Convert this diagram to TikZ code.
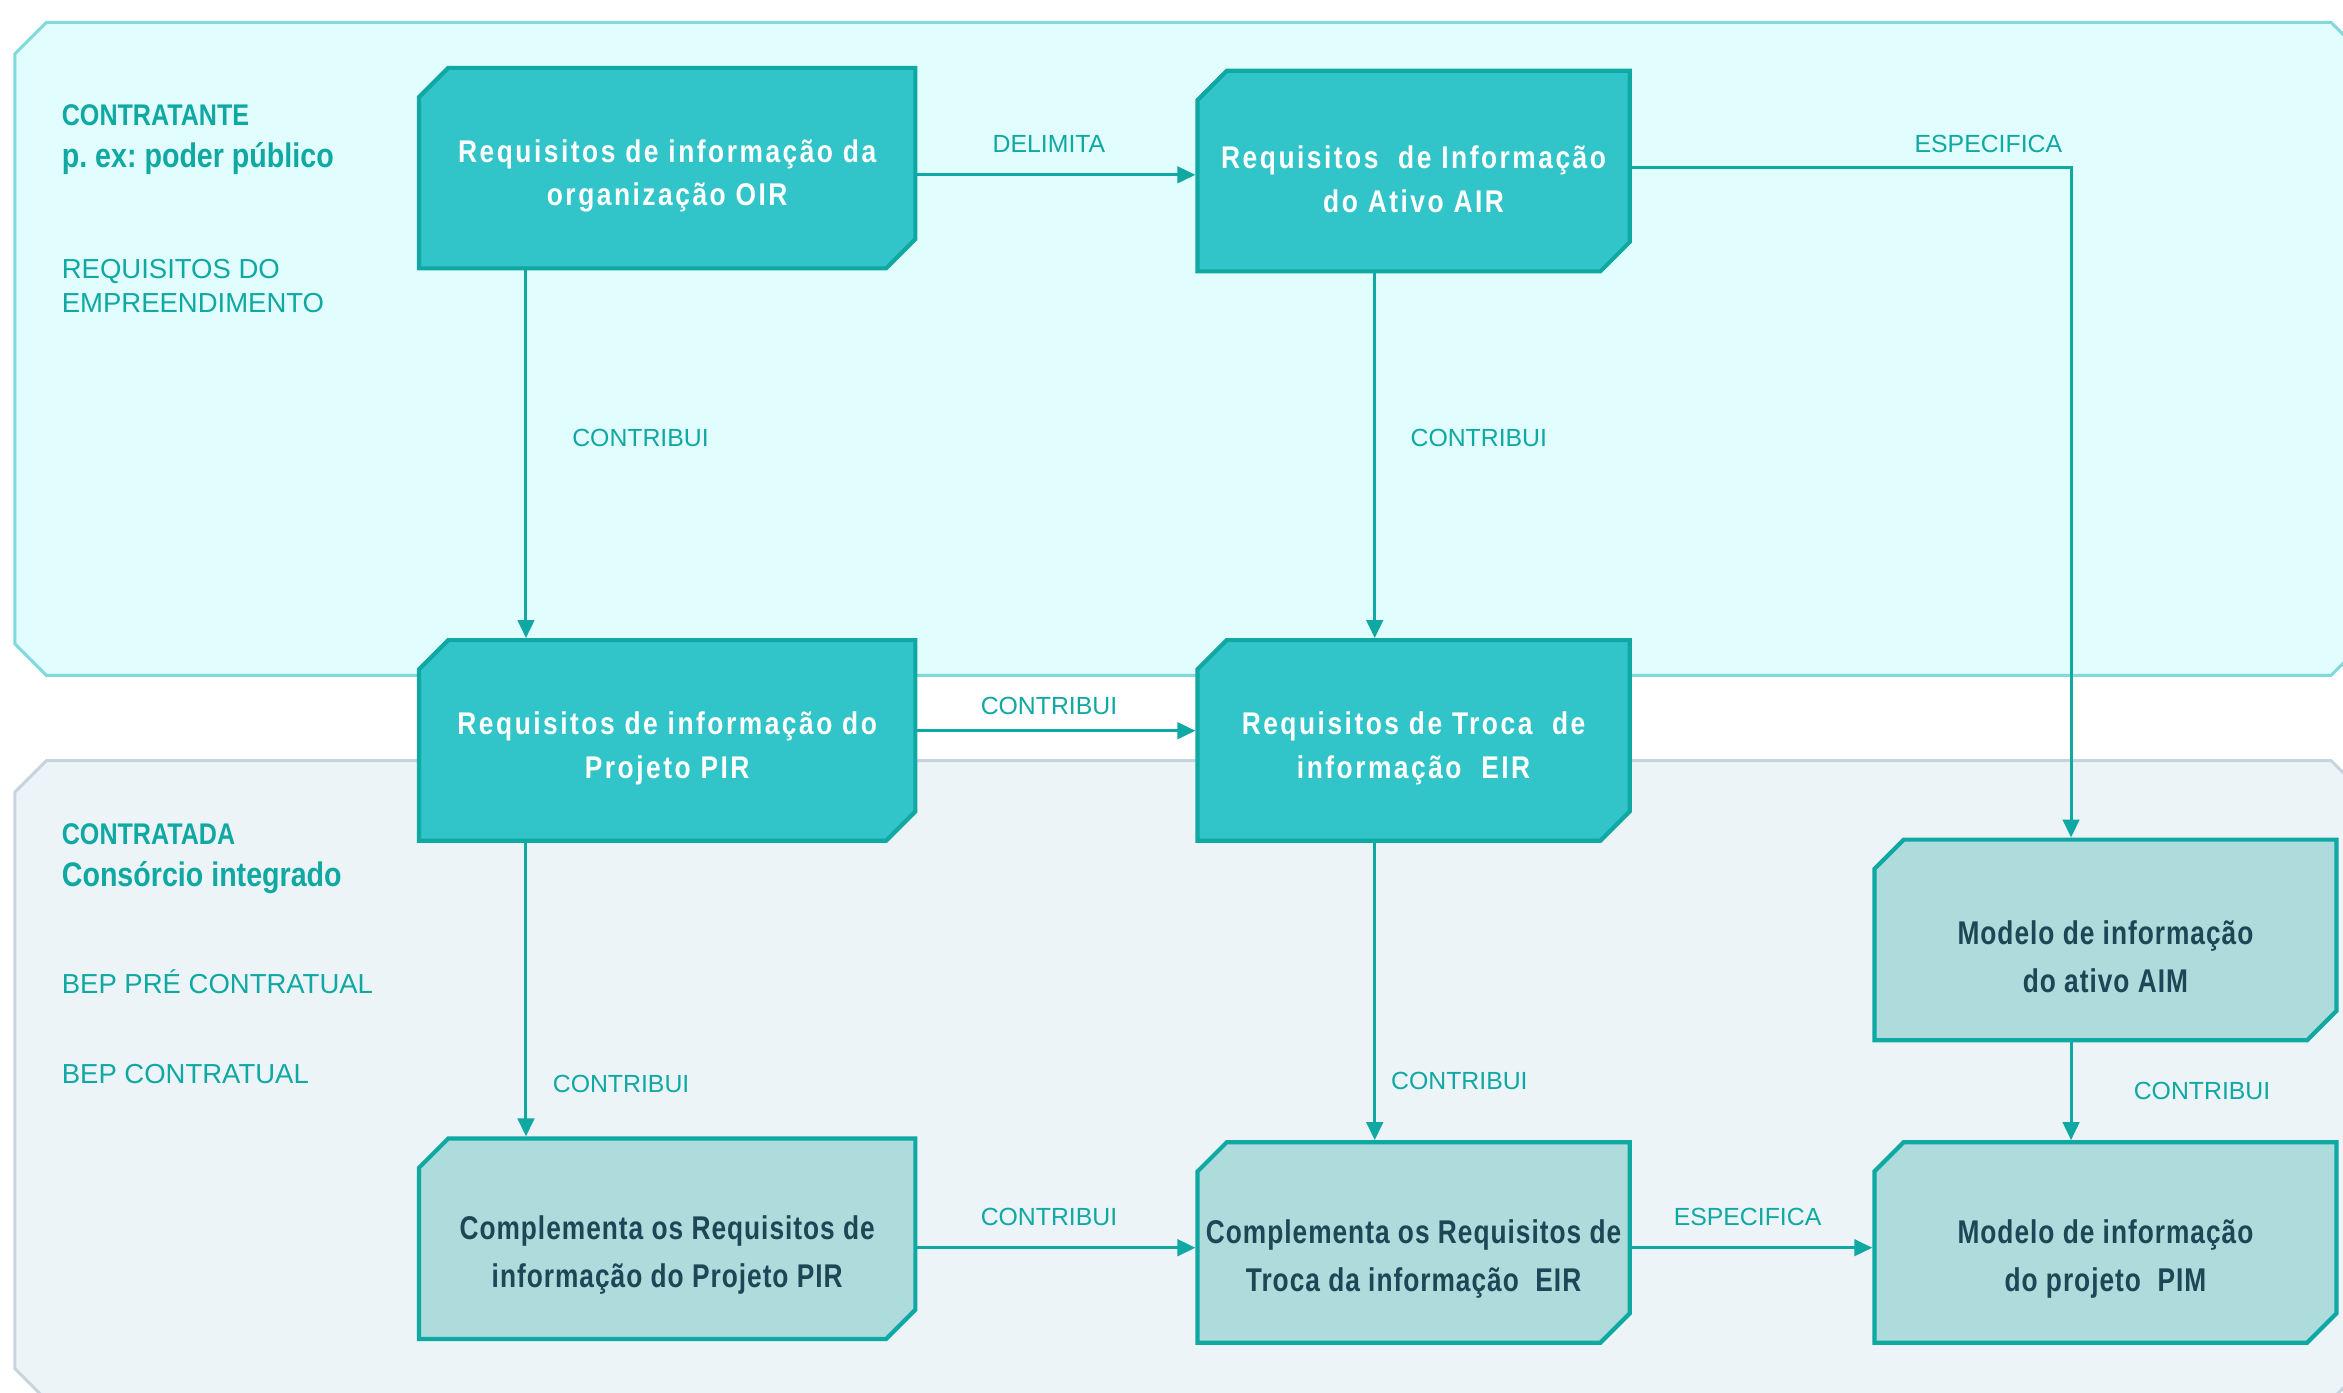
\documentclass[tikz,border=0pt]{standalone}
\usepackage{fontspec}
\setmainfont{Liberation Sans}
\newfontfamily\condfont[FakeStretch=0.84]{Liberation Sans}
\newfontfamily\reqfont[FakeStretch=0.84,LetterSpace=8]{Liberation Sans}
\newfontfamily\modfont[FakeStretch=0.8,LetterSpace=3]{Liberation Sans}
\usetikzlibrary{arrows.meta,positioning}
\frenchspacing
\newcommand\reqgap{\rule{0pt}{13pt}}
\newcommand\modgap{\rule{0pt}{19pt}}
\definecolor{panelA}{HTML}{E1FDFD}
\definecolor{panelAline}{HTML}{80D9DB}
\definecolor{panelB}{HTML}{ECF4F7}
\definecolor{panelBline}{HTML}{C6D4DF}
\definecolor{reqfill}{HTML}{31C4C8}
\definecolor{modfill}{HTML}{AEDBDB}
\definecolor{tealline}{HTML}{0FA8A3}
\definecolor{modtext}{HTML}{1B4756}
\begin{document}
\begin{tikzpicture}[x=0.5pt,y=-0.5pt,
  box/.style={rectangle,inner sep=0pt,outer sep=0pt,align=center,minimum height=68.5pt,
    path picture={\filldraw[fill=#1,draw=tealline,line width=1.4pt]
      ([shift={(.7pt,-10.5pt)}]path picture bounding box.north west)
      -- ([shift={(10.5pt,-.7pt)}]path picture bounding box.north west)
      -- ([shift={(-.7pt,-.7pt)}]path picture bounding box.north east)
      -- ([shift={(-.7pt,10.5pt)}]path picture bounding box.south east)
      -- ([shift={(-10.5pt,.7pt)}]path picture bounding box.south east)
      -- ([shift={(.7pt,.7pt)}]path picture bounding box.south west) -- cycle;}},
  req node/.style={box=reqfill,text=white,font=\reqfont\bfseries\fontsize{10.5}{14.5}\selectfont},
  model node/.style={box=modfill,text=modtext,font=\modfont\bfseries\fontsize{11}{16}\selectfont},
  link/.style={draw=tealline,line width=1pt,-{Triangle[length=6pt,width=5.5pt]}},
  link label/.style={inner sep=0pt,text=tealline,font=\fontsize{8.3}{10}\selectfont},
  side label/.style={anchor=west,inner sep=0pt,text=tealline,align=left}]
\useasboundingbox (0,0) rectangle (1568,932);
\clip (0,0) rectangle (1568,932);
% panels
\filldraw[fill=panelA,draw=panelAline,line width=1pt] (10,36) -- (31,15) -- (1560,15) -- (1581,36)
  -- (1581,431) -- (1560,452) -- (31,452) -- (10,431) -- cycle;
\filldraw[fill=panelB,draw=panelBline,line width=1pt] (10,530) -- (31,509) -- (1560,509) -- (1581,530)
  -- (1581,916) -- (1560,937) -- (31,937) -- (10,916) -- cycle;
% side texts
\node[side label,font=\condfont\bfseries\fontsize{10}{12}\selectfont] (contratante) at (41,77) {CONTRATANTE};
\node[side label,font=\condfont\bfseries\fontsize{11.4}{13}\selectfont] (poder) at (41,106) {p. ex: poder público};
\node[side label,font=\fontsize{9.2}{11.5}\selectfont] (empreend) at (41,191.5) {REQUISITOS DO\\EMPREENDIMENTO};
\node[side label,font=\condfont\bfseries\fontsize{10}{12}\selectfont] (contratada) at (41,558) {CONTRATADA};
\node[side label,font=\condfont\bfseries\fontsize{11.4}{13}\selectfont] (consorcio) at (41,587) {Consórcio integrado};
\node[side label,font=\fontsize{9.2}{11.5}\selectfont] (bepre) at (41,657) {BEP PRÉ CONTRATUAL};
\node[side label,font=\fontsize{9.2}{11.5}\selectfont] (bep) at (41,719) {BEP CONTRATUAL};
% boxes
\node[req node,minimum width=167.5pt] (oir) at (446.5,112.5) {\reqgap Requisitos de informação da\\organização OIR};
\node[req node,minimum width=146pt] (air) at (946,114.5) {\reqgap Requisitos\ \ de Informação\\do Ativo AIR};
\node[req node,minimum width=167.5pt] (pir) at (446.5,495.5) {\reqgap Requisitos de informação do\\Projeto PIR};
\node[req node,minimum width=146pt] (eir) at (946,495.5) {\reqgap Requisitos de Troca\ \ de\\informação\ \ EIR};
\node[model node,minimum width=156pt] (aim) at (1409,629) {\modgap Modelo de informação\\do ativo AIM};
\node[model node,minimum width=167.5pt] (pirc) at (446.5,829) {\modgap Complementa os Requisitos de\\informação do Projeto PIR};
\node[model node,minimum width=146pt] (eirc) at (946,831.5) {\modgap Complementa os Requisitos de\\Troca da informação\ \ EIR};
\node[model node,minimum width=156pt] (pim) at (1409,831.5) {\modgap Modelo de informação\\do projeto\ \ PIM};
% connectors
\draw[link] ([yshift=-2.25pt]oir.east) -- ([yshift=-2.25pt]oir.east -| air.west)
  node[link label,midway,above=7pt,xshift=-2.5pt] {DELIMITA};
\draw[link] ([yshift=1.25pt]air.east) -| ([xshift=66.5pt]aim.north west)
  node[link label,pos=.5,above left=4.5pt and 2.5pt] {ESPECIFICA};
\draw[link] ([xshift=36.5pt]oir.south west) -- ([xshift=36.5pt]oir.south west |- pir.north)
  node[link label,pos=.455,right=15pt] {CONTRIBUI};
\draw[link] ([xshift=60pt]air.south west) -- ([xshift=60pt]air.south west |- eir.north)
  node[link label,pos=.45,right=11.5pt] {CONTRIBUI};
\draw[link] ([yshift=3.25pt]pir.east) -- ([yshift=3.25pt]pir.east -| eir.west)
  node[link label,midway,above=5pt,xshift=-2.5pt] {CONTRIBUI};
\draw[link] ([xshift=36.5pt]pir.south west) -- ([xshift=36.5pt]pir.south west |- pirc.north)
  node[link label,pos=.82,right=8.5pt] {CONTRIBUI};
\draw[link] ([xshift=60pt]eir.south west) -- ([xshift=60pt]eir.south west |- eirc.north)
  node[link label,pos=.8,right=5pt] {CONTRIBUI};
\draw[link] ([xshift=66.5pt]aim.south west) -- ([xshift=66.5pt]aim.south west |- pim.north)
  node[link label,pos=.5,right=20.5pt] {CONTRIBUI};
\draw[link] ([yshift=-3pt]pirc.east) -- ([yshift=-3pt]pirc.east -| eirc.west)
  node[link label,midway,above=7pt,xshift=-2.5pt] {CONTRIBUI};
\draw[link] ([yshift=-1.75pt]eirc.east) -- ([yshift=-1.75pt]eirc.east -| pim.west)
  node[link label,midway,above=7pt,xshift=-1.5pt] {ESPECIFICA};
\end{tikzpicture}
\end{document}
